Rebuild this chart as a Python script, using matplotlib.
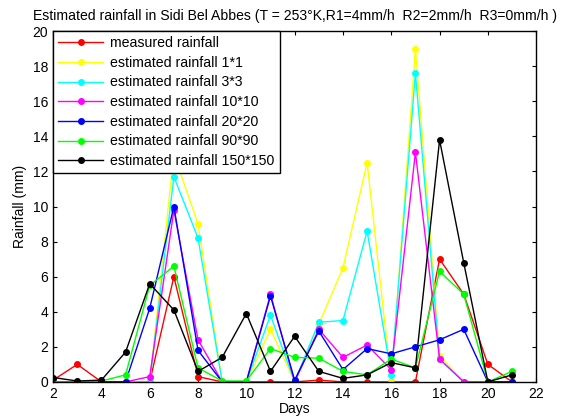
import matplotlib
matplotlib.use('Agg')
import matplotlib.pyplot as plt

plt.rcParams['font.family'] = ['Liberation Sans', 'DejaVu Sans']

# Days of the observation period
days = list(range(2, 22))

# Rainfall values (mm)
measured = [0.1, 1.0, 0, 0, 0, 6.0, 0.3, 0, 0, 0, 0, 0.1, 0, 0, 0, 0, 7.0, 5.0, 1.0, 0]
est_1x1 = [0, 0, 0, 0, 0, 13.0, 9.0, 0, 0, 3.0, 0, 3.3, 6.5, 12.5, 0, 19.0, 1.5, 0, 0, 0]
est_3x3 = [0, 0, 0, 0, 0, 11.7, 8.2, 0, 0, 3.8, 0, 3.4, 3.5, 8.6, 0.4, 17.6, 1.3, 0, 0, 0]
est_10x10 = [0, 0, 0, 0, 0.3, 9.8, 2.4, 0, 0, 5.0, 0, 3.0, 1.4, 2.1, 0.7, 13.1, 1.3, 0, 0, 0]
est_20x20 = [0, 0, 0, 0, 4.2, 10.0, 1.8, 0, 0, 4.9, 0.1, 2.9, 0.7, 1.9, 1.6, 2.0, 2.4, 3.0, 0, 0]
est_90x90 = [0, 0, 0.05, 0.4, 5.5, 6.6, 0.8, 0.05, 0.05, 1.9, 1.4, 1.35, 0.6, 0.4, 1.3, 0.8, 6.3, 5.0, 0, 0.6]
est_150x150 = [0.25, 0.05, 0.1, 1.7, 5.6, 4.1, 0.6, 1.4, 3.9, 0.6, 2.6, 0.6, 0.2, 0.4, 1.1, 0.8, 13.8, 6.8, 0, 0.4]

series = [
    (measured, 'r', 'measured rainfall'),
    (est_1x1, '#ffff00', 'estimated rainfall 1*1'),
    (est_3x3, '#00ffff', 'estimated rainfall 3*3'),
    (est_10x10, '#ff00ff', 'estimated rainfall 10*10'),
    (est_20x20, '#0000ff', 'estimated rainfall 20*20'),
    (est_90x90, '#00ff00', 'estimated rainfall 90*90'),
    (est_150x150, 'k', 'estimated rainfall 150*150'),
]

fig = plt.figure(figsize=(5.65, 4.16), dpi=100)
ax = fig.add_axes([0.094, 0.082, 0.855, 0.843])

for values, color, label in series:
    ax.plot(days, values, color=color, marker='o', markersize=4, linewidth=1, label=label)

ax.set_xlim(2, 22)
ax.set_ylim(0, 20)
ax.set_xticks(range(2, 23, 2))
ax.set_yticks(range(0, 21, 2))
ax.tick_params(direction='in', top=True, right=True, labelsize=10, length=3)
for spine in ax.spines.values():
    spine.set_linewidth(1)

ax.set_xlabel('Days', fontsize=10, labelpad=1)
ax.set_ylabel('Rainfall (mm)', fontsize=10, labelpad=4)
ax.set_title('Estimated rainfall in Sidi Bel Abbes (T = 253\u00b0K,R1=4mm/h  R2=2mm/h  R3=0mm/h )',
             fontsize=10.1, pad=8)

leg = ax.legend(loc='upper left', borderaxespad=0, fontsize=10.2, fancybox=False,
                framealpha=1, edgecolor='k', handlelength=3.2, labelspacing=0.4,
                borderpad=0.35, handletextpad=0.5)
leg.get_frame().set_linewidth(1)

fig.savefig('out.png', dpi=100)
